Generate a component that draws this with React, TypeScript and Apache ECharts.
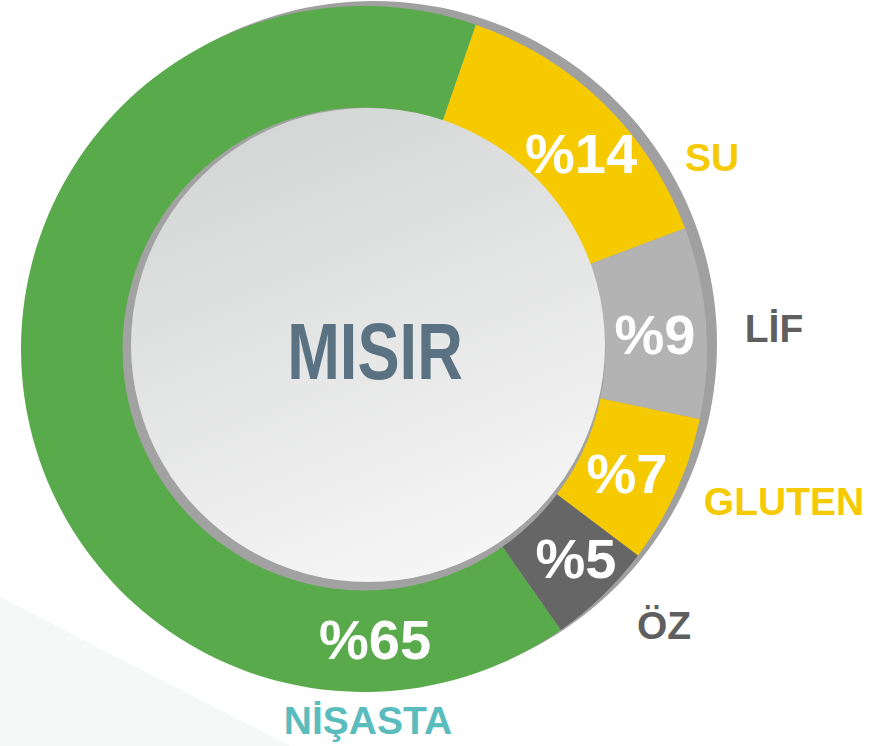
import React, { useEffect, useRef } from 'react';
import * as echarts from 'echarts';

// ---- data ----
const categories = ['SU', 'LİF', 'GLUTEN', 'ÖZ', 'NİŞASTA'];
const values = [14, 9, 7, 5, 65];
const sliceColors = ['#f6ca00', '#b3b3b3', '#f6ca00', '#666666', '#58aa4a'];
const nameColors = ['#f6ca00', '#5f5f5f', '#f6ca00', '#5f5f5f', '#5bbcbd'];
const centerTitle = 'MISIR';

// ---- layout (not data) ----
const PIE_CENTER: [number, number] = [364, 349];
const PIE_RADIUS: [number, number] = [241, 343];
const START_ANGLE = 71;
const valueLabelPos = [
  [581, 153],
  [655, 334],
  [627, 473],
  [576, 558],
  [375, 639],
];
const nameLabelPos = [
  [712, 157],
  [774, 328],
  [784, 501],
  [664, 625],
  [368, 720],
];
const FONT = "'Liberation Sans', Arial, Helvetica, sans-serif";

export default function App() {
  const ref = useRef<HTMLDivElement>(null);

  useEffect(() => {
    if (!ref.current) return;
    const chart = echarts.init(ref.current, null, { renderer: 'svg' });

    const valueData = categories.map((name, i) => ({
      name,
      value: values[i],
      itemStyle: { color: sliceColors[i] },
    }));
    const nameData = categories.map((name, i) => ({
      name,
      value: values[i],
      itemStyle: { color: 'rgba(0,0,0,0)' },
      label: { color: nameColors[i] },
    }));

    chart.setOption({
      animation: false,
      backgroundColor: '#ffffff',
      graphic: [
        {
          type: 'polygon',
          z: 0,
          silent: true,
          shape: { points: [[0, 597], [290, 746], [0, 746]] },
          style: { fill: '#f6f7f7' },
        },
        {
          type: 'circle',
          z: 1,
          silent: true,
          shape: { cx: 374, cy: 344, r: 343 },
          style: { fill: '#a0a0a0' },
        },
        {
          type: 'circle',
          z: 5,
          silent: true,
          shape: { cx: PIE_CENTER[0], cy: PIE_CENTER[1], r: PIE_RADIUS[0] + 0.5 },
          style: { fill: '#a2a2a2' },
        },
        {
          type: 'circle',
          z: 6,
          silent: true,
          shape: { cx: 368, cy: 345, r: 237 },
          style: {
            fill: new echarts.graphic.LinearGradient(0.3, 0, 0.7, 1, [
              { offset: 0, color: '#d4d5d5' },
              { offset: 1, color: '#f7f7f7' },
            ]),
          },
        },
        {
          type: 'text',
          z: 7,
          silent: true,
          x: 375,
          y: 351,
          scaleX: 0.79,
          style: {
            text: centerTitle,
            fill: '#5b7282',
            font: `bold 80px ${FONT}`,
            textAlign: 'center',
            textVerticalAlign: 'middle',
          },
        },
      ],
      series: [
        {
          type: 'pie',
          z: 2,
          silent: true,
          center: PIE_CENTER,
          radius: PIE_RADIUS,
          startAngle: START_ANGLE,
          clockwise: true,
          avoidLabelOverlap: false,
          itemStyle: { borderWidth: 0 },
          label: {
            show: true,
            position: 'inside',
            formatter: (p: any) => '%' + p.value,
            color: '#ffffff',
            fontSize: 56,
            fontWeight: 'bold',
            fontFamily: FONT,
            textBorderWidth: 0,
          },
          labelLine: { show: false },
          labelLayout: (p: any) => ({
            x: valueLabelPos[p.dataIndex][0],
            y: valueLabelPos[p.dataIndex][1],
            align: 'center',
            verticalAlign: 'middle',
          }),
          data: valueData,
        },
        {
          type: 'pie',
          z: 1,
          silent: true,
          center: PIE_CENTER,
          radius: PIE_RADIUS,
          startAngle: START_ANGLE,
          clockwise: true,
          avoidLabelOverlap: false,
          itemStyle: { borderWidth: 0 },
          label: {
            show: true,
            position: 'outside',
            formatter: '{b}',
            fontSize: 39,
            fontWeight: 'bold',
            fontFamily: FONT,
            textBorderWidth: 0,
          },
          labelLine: { show: false },
          labelLayout: (p: any) => ({
            x: nameLabelPos[p.dataIndex][0],
            y: nameLabelPos[p.dataIndex][1],
            align: 'center',
            verticalAlign: 'middle',
          }),
          data: nameData,
        },
      ],
    });

    return () => chart.dispose();
  }, []);

  return (
    <div
      ref={ref}
      style={{ position: 'fixed', left: 0, top: 0, width: 892, height: 746 }}
    />
  );
}
